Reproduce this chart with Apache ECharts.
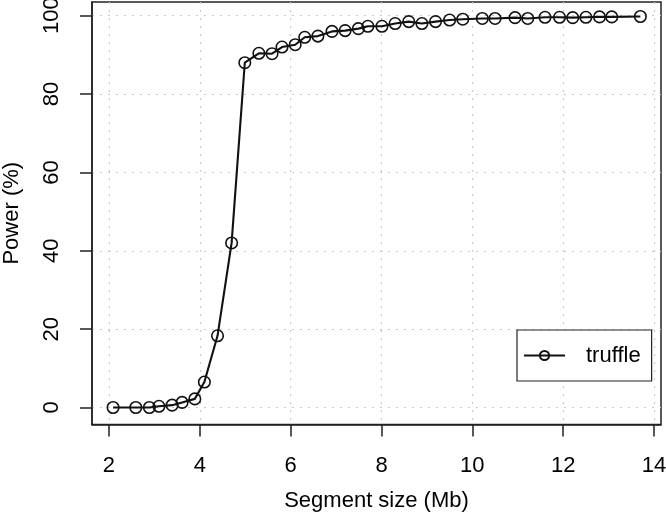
<!DOCTYPE html>
<html><head><meta charset="utf-8">
<script src="https://cdn.jsdelivr.net/npm/echarts@6/dist/echarts.min.js"></script>
<style>html,body{margin:0;padding:0;background:#fff}#c{width:666px;height:521px}</style>
</head><body><div id="c"></div>
<script>
const segmentSize = [2.09, 2.59, 2.89, 3.10, 3.39, 3.61, 3.89, 4.10, 4.39, 4.70, 4.99, 5.30, 5.59, 5.81, 6.10, 6.31, 6.60, 6.91, 7.20, 7.49, 7.70, 8.01, 8.30, 8.60, 8.89, 9.19, 9.50, 9.79, 10.22, 10.50, 10.94, 11.22, 11.60, 11.92, 12.21, 12.50, 12.80, 13.07, 13.70];
const power = [0, 0, 0, 0.3, 0.6, 1.3, 2.2, 6.5, 18.3, 42.0, 88.0, 90.4, 90.3, 92.0, 92.6, 94.5, 94.8, 96.0, 96.2, 96.7, 97.3, 97.3, 98.0, 98.5, 98.0, 98.5, 98.9, 99.1, 99.3, 99.3, 99.5, 99.3, 99.6, 99.6, 99.5, 99.6, 99.7, 99.7, 99.8];
const xTicks = [2, 4, 6, 8, 10, 12, 14];
const yTicks = [0, 20, 40, 60, 80, 100];
const seriesName = 'truffle';
const xTitle = 'Segment size (Mb)';
const yTitle = 'Power (%)';

const FONT = "'Liberation Sans', Arial, Helvetica, sans-serif";
const FS = 22;
const chart = echarts.init(document.getElementById('c'), null, {renderer: 'canvas'});
const pts = segmentSize.map((x, i) => [x, power[i]]);
const gridLine = {show: true, lineStyle: {color: '#c8c8c8', width: 1.2, type: [2, 6]}};

chart.setOption({
  animation: false,
  backgroundColor: '#fff',
  textStyle: {fontFamily: FONT},
  grid: {
    left: 92, right: 5, top: 2, bottom: 96.5,
    containLabel: false, outerBoundsMode: 'none',
    show: true, borderColor: '#222', borderWidth: 1.5, backgroundColor: 'transparent'
  },
  xAxis: {
    type: 'value', min: 1.626, max: 14.154,
    axisLine: {show: true, onZero: false, lineStyle: {color: '#222', width: 1.5}},
    axisTick: {show: true, length: 12, customValues: xTicks, lineStyle: {color: '#222', width: 1.5}},
    axisLabel: {customValues: xTicks, fontSize: FS, color: '#000', margin: 30, fontFamily: FONT},
    splitLine: gridLine,
    name: xTitle, nameLocation: 'middle', nameGap: 65,
    nameTextStyle: {fontSize: FS, color: '#000', fontFamily: FONT}
  },
  yAxis: {
    type: 'value', min: -4.34, max: 103.5,
    axisLine: {show: true, onZero: false, lineStyle: {color: '#222', width: 1.5}},
    axisTick: {show: true, length: 12, customValues: yTicks, lineStyle: {color: '#222', width: 1.5}},
    axisLabel: {customValues: yTicks, fontSize: FS, color: '#000', margin: 29, rotate: 90, fontFamily: FONT},
    splitLine: gridLine,
    name: yTitle, nameLocation: 'middle', nameGap: 69,
    nameTextStyle: {fontSize: FS, color: '#000', fontFamily: FONT}
  },
  legend: {
    show: true, left: 517, top: 330,
    orient: 'vertical',
    padding: [13, 11, 13, 6],
    borderColor: '#222', borderWidth: 1.2, backgroundColor: '#fff',
    itemWidth: 41, itemHeight: 11.5,
    textStyle: {fontSize: FS, color: '#000', lineHeight: 25, padding: [0, 0, 0, 16], fontFamily: FONT},
    selectedMode: false,
    data: [seriesName]
  },
  series: [{
    name: seriesName, type: 'line', data: pts,
    color: '#111',
    symbol: 'circle', symbolSize: 11.5,
    itemStyle: {color: 'rgba(0,0,0,0)', borderColor: '#111', borderWidth: 1.6},
    lineStyle: {color: '#111', width: 2.1},
    clip: false,
    emphasis: {disabled: true},
    z: 5
  }]
});
</script>
</body></html>
